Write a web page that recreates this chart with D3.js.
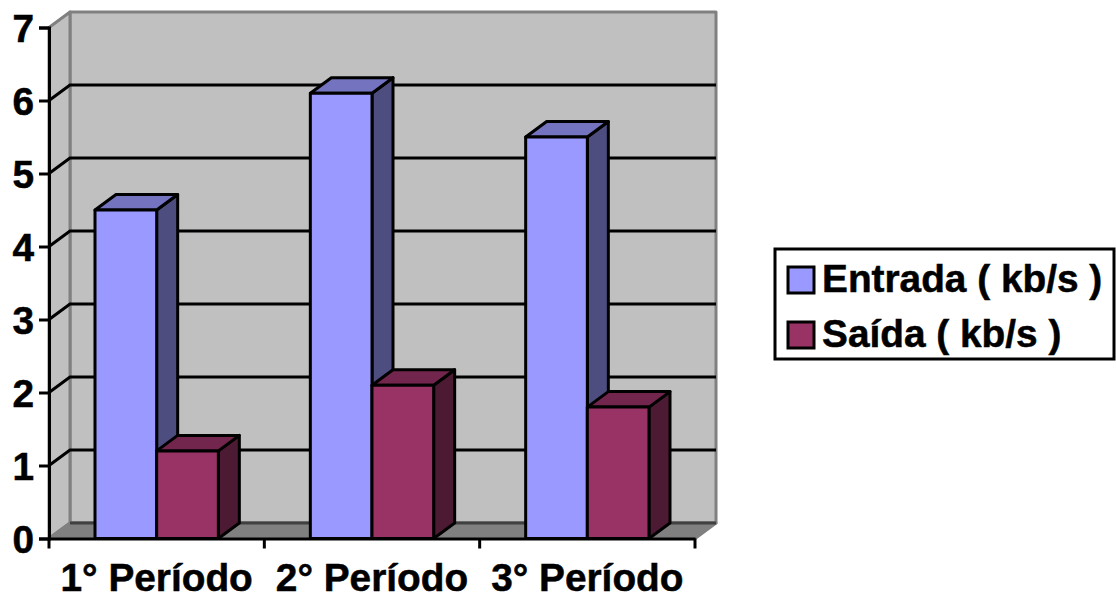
<!DOCTYPE html>
<html>
<head>
<meta charset="utf-8">
<script src="https://cdn.jsdelivr.net/npm/d3@7"></script>
<style>
  html, body { margin: 0; padding: 0; background: #fff; }
  svg { display: block; }
  text { font-family: "Liberation Sans", Arial, sans-serif; font-weight: bold; fill: #000; stroke: #000; stroke-width: 0.5px; }
</style>
</head>
<body>
<div id="chart"></div>
<script>
const categories = ['1° Período', '2° Período', '3° Período'];
const series_names = ['Entrada ( kb/s )', 'Saída ( kb/s )'];
const entrada = [4.5, 6.1, 5.5];
const saida = [1.2, 2.1, 1.8];
const y_ticks = [0, 1, 2, 3, 4, 5, 6, 7];

const width = 1116,
  height = 599;
const font_size = 38.8;
const plot = {left: 49, right: 695, top: 27.5, bottom: 538.5};
const depth = {x: 21, y: -15.5};
const colors = [
  {front: '#9999ff', top: '#7373bf', side: '#4d4d80'},
  {front: '#993366', top: '#73264d', side: '#4d1a33'}
];

let svg = d3.select('#chart').append('svg')
  .attr('width', width)
  .attr('height', height);

let x = d3.scaleBand()
  .domain(categories)
  .range([plot.left, plot.right]);
let x_bar = d3.scaleBand()
  .domain(series_names)
  .range([46, x.bandwidth() - 46]);
let y = d3.scaleLinear()
  .domain([0, 7])
  .range([plot.bottom, plot.top]);

const poly = pts => pts.map(p => p.join(',')).join(' ');

// walls and floor
let walls = svg.append('g')
  .attr('stroke', '#808080')
  .attr('stroke-width', 3)
  .attr('stroke-linejoin', 'round');
walls.append('polygon')
  .attr('fill', '#c0c0c0')
  .attr('points', poly([
    [plot.left + depth.x, plot.top + depth.y], [plot.right + depth.x, plot.top + depth.y],
    [plot.right + depth.x, plot.bottom + depth.y], [plot.left + depth.x, plot.bottom + depth.y]
  ]));
walls.append('polygon')
  .attr('fill', '#c0c0c0')
  .attr('points', poly([
    [plot.left, plot.top], [plot.left + depth.x, plot.top + depth.y],
    [plot.left + depth.x, plot.bottom + depth.y], [plot.left, plot.bottom]
  ]));
walls.append('polygon')
  .attr('fill', '#808080')
  .attr('points', poly([
    [plot.left, plot.bottom], [plot.left + depth.x, plot.bottom + depth.y],
    [plot.right + depth.x, plot.bottom + depth.y], [plot.right, plot.bottom]
  ]));
// back edge of the floor is darker
walls.append('line')
  .attr('x1', plot.left + depth.x)
  .attr('x2', plot.right + depth.x)
  .attr('y1', plot.bottom + depth.y)
  .attr('y2', plot.bottom + depth.y)
  .attr('stroke', '#404040');

// gridlines
let grid = svg.append('g')
  .attr('fill', 'none')
  .attr('stroke', '#000')
  .attr('stroke-width', 3);
grid.selectAll('polyline')
  .data(y_ticks.filter(d => d > 0 && d < 7))
  .join('polyline')
  .attr('points', d => poly([
    [plot.left, y(d)], [plot.left + depth.x, y(d) + depth.y],
    [plot.right + depth.x, y(d) + depth.y]
  ]));

// bars
let rows = categories.map((c, i) => [
  {cat: c, name: series_names[0], value: entrada[i], color: colors[0]},
  {cat: c, name: series_names[1], value: saida[i], color: colors[1]}
]).flat();

let bars = svg.append('g')
  .attr('stroke', '#000')
  .attr('stroke-width', 3)
  .attr('stroke-linejoin', 'round')
  .selectAll('g')
  .data(rows)
  .join('g');
const x0 = d => x(d.cat) + x_bar(d.name);
const x1 = d => x0(d) + x_bar.bandwidth();
bars.append('polygon')
  .attr('fill', d => d.color.side)
  .attr('points', d => poly([
    [x1(d), y(d.value)], [x1(d) + depth.x, y(d.value) + depth.y],
    [x1(d) + depth.x, y(0) + depth.y], [x1(d), y(0)]
  ]));
bars.append('polygon')
  .attr('fill', d => d.color.top)
  .attr('points', d => poly([
    [x0(d), y(d.value)], [x0(d) + depth.x, y(d.value) + depth.y],
    [x1(d) + depth.x, y(d.value) + depth.y], [x1(d), y(d.value)]
  ]));
bars.append('rect')
  .attr('fill', d => d.color.front)
  .attr('x', x0)
  .attr('y', d => y(d.value))
  .attr('width', x_bar.bandwidth())
  .attr('height', d => y(0) - y(d.value));

// axes
let axis_y = svg.append('g')
  .attr('transform', `translate(${plot.left},0)`)
  .call(d3.axisLeft(y).tickValues(y_ticks).tickSize(10).tickPadding(5).tickFormat(d3.format('d')));
let axis_x = svg.append('g')
  .attr('transform', `translate(0,${plot.bottom})`)
  .call(d3.axisBottom(x).tickSize(0).tickPadding(25));
axis_y.selectAll('text').attr('dy', '0.35em');
// ticks sit between the categories, not on them
axis_x.selectAll('.boundary')
  .data(d3.range(categories.length + 1))
  .join('line')
  .attr('class', 'boundary')
  .attr('x1', i => plot.left + i * x.step())
  .attr('x2', i => plot.left + i * x.step())
  .attr('y1', 0)
  .attr('y2', 10);
for (let axis of [axis_y, axis_x]) {
  axis.selectAll('line, path').attr('stroke', '#000').attr('stroke-width', 3);
  axis.selectAll('text').attr('font-size', font_size)
    .style('font-family', '"Liberation Sans", Arial, sans-serif')
    .style('font-weight', 'bold')
    .attr('fill', '#000');
}

// legend
let legend = svg.append('g')
  .attr('transform', 'translate(775,249)');
legend.append('rect')
  .attr('width', 339)
  .attr('height', 110)
  .attr('fill', '#fff')
  .attr('stroke', '#000')
  .attr('stroke-width', 3);
let entries = legend.selectAll('g')
  .data(series_names)
  .join('g')
  .attr('transform', (d, i) => `translate(0,${i * 55})`);
entries.append('rect')
  .attr('x', 13)
  .attr('y', 18)
  .attr('width', 26)
  .attr('height', 26)
  .attr('fill', (d, i) => colors[i].front)
  .attr('stroke', '#000')
  .attr('stroke-width', 3);
entries.append('text')
  .attr('x', 47)
  .attr('y', 43)
  .attr('font-size', font_size)
  .text(d => d);
</script>
</body>
</html>
